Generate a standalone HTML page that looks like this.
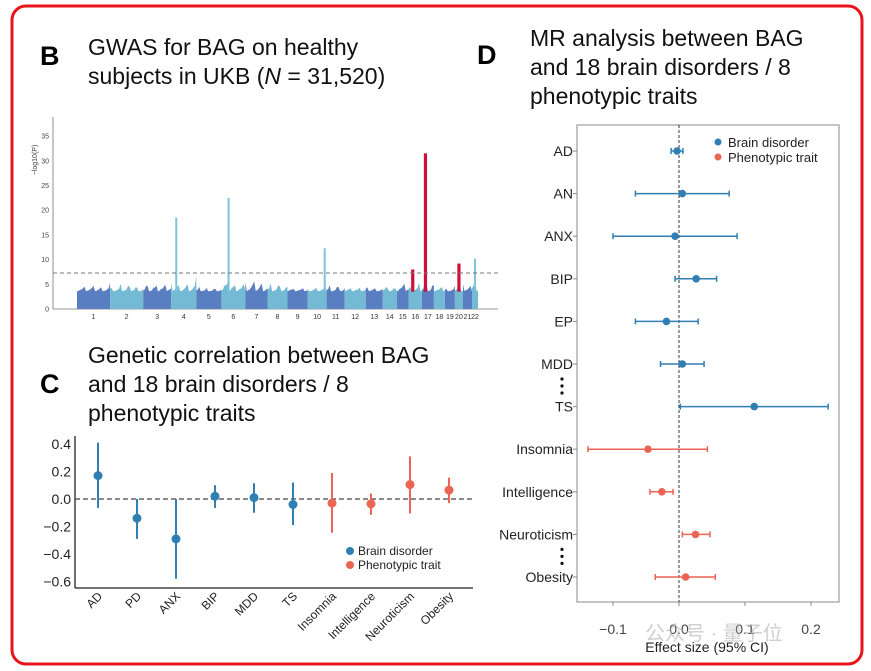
<!DOCTYPE html>
<html><head><meta charset="utf-8"><style>
body{margin:0;background:#fff;}
svg{display:block;font-family:"Liberation Sans","Noto Sans CJK SC",sans-serif;}
</style></head><body>
<svg id="fig" width="871" height="671" viewBox="0 0 871 671">
<rect x="12" y="6" width="850" height="658" rx="14" fill="none" stroke="#e8141c" stroke-width="3"/>
<text x="40" y="65" font-size="27" font-weight="bold">B</text>
<text x="88" y="55" font-size="23" fill="#111">GWAS for BAG on healthy</text>
<text x="88" y="84" font-size="23" fill="#111">subjects in UKB (<tspan font-style="italic">N</tspan> = 31,520)</text>
<text x="40" y="393" font-size="27" font-weight="bold">C</text>
<text x="88" y="363" font-size="23" fill="#111">Genetic correlation between BAG</text>
<text x="88" y="392" font-size="23" fill="#111">and 18 brain disorders / 8</text>
<text x="88" y="421" font-size="23" fill="#111">phenotypic traits</text>
<text x="477" y="64" font-size="27" font-weight="bold">D</text>
<text x="530" y="46" font-size="23" fill="#111">MR analysis between BAG</text>
<text x="530" y="75" font-size="23" fill="#111">and 18 brain disorders / 8</text>
<text x="530" y="104" font-size="23" fill="#111">phenotypic traits</text>
<g id="gB"></g><g id="gC"></g><g id="gD"></g>
<text x="645" y="640" font-size="20" fill="#bbb" opacity="0.7">公众号 · 量子位</text>
</svg>
<script>
// ---- Panel B data ----
const chrNames=["1","2","3","4","5","6","7","8","9","10","11","12","13","14","15","16","17","18","19","20","21","22"];
const chrWidths=[33,33,28,25,25,24,22,20,20,19,18,21,17,14,12,13,12,11,10,8,9,6];
const chrMax=[5.8,5.5,6.3,7,4.6,7,7.8,5.6,4.8,5.2,5.4,5.2,5.2,5,6.7,5.6,7,5.6,5,6.3,6.5,7];
const peakChr=["4","6","10","16","17","20","22"];
const peakFrac=[0.2,0.3,0.9,0.3,0.3,0.5,0.5];
const peakVal=[18.5,22.5,12.3,8,31.5,9.2,10.2];
const peakRed=[false,false,false,true,true,true,false];
const yTicksB=[0,5,10,15,20,25,30,35];
const threshold=7.3;
// ---- Panel C data ----
const catsC=["AD","PD","ANX","BIP","MDD","TS","Insomnia","Intelligence","Neuroticism","Obesity"];
const estC=[0.17,-0.14,-0.29,0.02,0.01,-0.04,-0.03,-0.035,0.105,0.065];
const loC=[-0.065,-0.29,-0.58,-0.065,-0.1,-0.19,-0.245,-0.115,-0.105,-0.03];
const hiC=[0.41,0,0,0.1,0.115,0.12,0.19,0.04,0.31,0.155];
const typeC=[0,0,0,0,0,0,1,1,1,1];
const yTicksC=[0.4,0.2,0,-0.2,-0.4,-0.6];
// ---- Panel D data ----
const catsD=["AD","AN","ANX","BIP","EP","MDD","TS","Insomnia","Intelligence","Neuroticism","Obesity"];
const estD=[-0.003,0.005,-0.006,0.026,-0.019,0.005,0.114,-0.047,-0.026,0.025,0.01];
const loD=[-0.012,-0.066,-0.1,-0.006,-0.066,-0.028,0.002,-0.138,-0.044,0.005,-0.036];
const hiD=[0.006,0.076,0.088,0.057,0.029,0.038,0.226,0.043,-0.009,0.047,0.055];
const typeD=[0,0,0,0,0,0,0,1,1,1,1];
const xTicksD=[-0.1,0,0.1,0.2];
const xTickLabD=["\u22120.1","0.0","0.1","0.2"];

const NS="http://www.w3.org/2000/svg";
function mk(p,tag,a,txt){const e=document.createElementNS(NS,tag);for(const k in a)e.setAttribute(k,a[k]);if(txt!==undefined)e.textContent=txt;p.appendChild(e);return e;}
const BLUE="#2f7fb3",RED="#ec6454";

// ===== Panel B =====
(function(){
const g=document.getElementById('gB');
const x0=53,y0=309,yTop=117,xStart=77,xEnd=478;
const yB=v=>y0-v*4.94;
const total=chrWidths.reduce((a,b)=>a+b,0);
const sx=(xEnd-xStart)/total;
let ax=mk(g,'line',{x1:x0,y1:yTop,x2:x0,y2:y0,stroke:'#777','stroke-width':0.8});

let bx=mk(g,'line',{x1:x0,y1:y0,x2:498,y2:y0,stroke:'#777','stroke-width':0.8});

yTicksB.forEach(t=>{
 let tl=mk(g,'text',{x:x0-4,y:yB(t)+2.5,'font-size':7,'text-anchor':'end',fill:'#444'},String(t));
 
});
let yl=mk(g,'text',{x:0,y:0,'font-size':7,fill:'#444',transform:'translate(37,160) rotate(-90)','text-anchor':'middle'},'\u2212log10(P)');

let cx=xStart;const starts={};
chrNames.forEach((c,i)=>{
 const w=chrWidths[i]*sx;starts[c]=[cx,w];
 const col=i%2===0?'#5a7ec2':'#74bad4';
 let pts=[[cx,y0]];
 const n=Math.max(4,Math.round(w/1.5));
 for(let k=0;k<=n;k++){const xx=cx+w*k/n;const f=((k*37+i*11)%17)/17;const hv=3.6+f*f*(chrMax[i]-3.6)*((k%5===2)?1:0.55);pts.push([xx,yB(hv)]);}
 pts.push([cx+w,y0]);
 let p=mk(g,'polygon',{points:pts.map(q=>q[0].toFixed(1)+','+q[1].toFixed(1)).join(' '),fill:col});
 
 let tl=mk(g,'text',{x:cx+w/2,y:y0+10,'font-size':7,'text-anchor':'middle',fill:'#333'},c);
 
 cx+=w;
});
peakChr.forEach((c,i)=>{
 const [s,w]=starts[c];const px=s+w*peakFrac[i];
 const col=peakRed[i]?'#d0103a':'#7cc3dc';
 let r=mk(g,'rect',{x:px-(peakRed[i]?1.6:1),y:yB(peakVal[i]),width:peakRed[i]?3.2:2,height:yB(3.5)-yB(peakVal[i]),fill:col});
 if(!peakRed[i])r.setAttribute('stroke-dasharray','2 1');
 
});
let th=mk(g,'line',{x1:x0,y1:yB(threshold),x2:498,y2:yB(threshold),stroke:'#777','stroke-width':1,'stroke-dasharray':'4 3'});

})();

// ===== Panel C =====
(function(){
const g=document.getElementById('gC');
const x0=75,y0=588,xr=473;
const yC=v=>499-v*137.5;
const xC=i=>98+i*39;
let a1=mk(g,'line',{x1:x0,y1:436,x2:x0,y2:y0,stroke:'#222','stroke-width':1.3});

let a2=mk(g,'line',{x1:x0,y1:y0,x2:xr,y2:y0,stroke:'#222','stroke-width':1.3});

yTicksC.forEach(t=>{
 let tl=mk(g,'text',{x:x0-4,y:yC(t)+5,'font-size':14,'text-anchor':'end',fill:'#222'},(t<0?'\u2212':'')+Math.abs(t).toFixed(1));
 
});
let z=mk(g,'line',{x1:x0,y1:yC(0),x2:xr,y2:yC(0),stroke:'#444','stroke-width':1.2,'stroke-dasharray':'5 3'});

catsC.forEach((c,i)=>{
 const col=typeC[i]?RED:BLUE;
 let l=mk(g,'line',{x1:xC(i),y1:yC(loC[i]),x2:xC(i),y2:yC(hiC[i]),stroke:col,'stroke-width':2});
 
 let d=mk(g,'circle',{cx:xC(i),cy:yC(estC[i]),r:4.5,fill:col});
 
 let t=mk(g,'text',{x:0,y:0,'font-size':12,'text-anchor':'end',fill:'#222',transform:'translate('+(xC(i)+5)+',597) rotate(-45)'},c);
 
});
[[BLUE,'Brain disorder',551],[RED,'Phenotypic trait',565]].forEach(([col,lab,yy])=>{
 let d=mk(g,'circle',{cx:350,cy:yy,r:4,fill:col});
 let t=mk(g,'text',{x:358,y:yy+4,'font-size':12,fill:'#222'},lab);
});
})();

// ===== Panel D =====
(function(){
const g=document.getElementById('gD');
const xD=v=>679+v*660;
const yD=i=>151+i*42.6;
let box=mk(g,'rect',{x:577,y:125,width:262,height:477,fill:'none',stroke:'#888','stroke-width':1});

let z=mk(g,'line',{x1:xD(0),y1:125,x2:xD(0),y2:602,stroke:'#333','stroke-width':1,'stroke-dasharray':'3 2'});

xTicksD.forEach((t,i)=>{
 let tk=mk(g,'line',{x1:xD(t),y1:602,x2:xD(t),y2:606,stroke:'#888'});
 let tl=mk(g,'text',{x:xD(t),y:634,'font-size':14,'text-anchor':'middle',fill:'#444'},xTickLabD[i]);
 
});
let xt=mk(g,'text',{x:707,y:652,'font-size':14,'text-anchor':'middle',fill:'#222'},'Effect size (95% CI)');

catsD.forEach((c,i)=>{
 const col=typeD[i]?RED:BLUE;const y=yD(i);
 let tk=mk(g,'line',{x1:573,y1:y,x2:577,y2:y,stroke:'#888'});
 let tl=mk(g,'text',{x:573,y:y+5,'font-size':14,'text-anchor':'end',fill:'#222'},c);
 
 let l=mk(g,'line',{x1:xD(loD[i]),y1:y,x2:xD(hiD[i]),y2:y,stroke:col,'stroke-width':1.5});
 
 [loD[i],hiD[i]].forEach(v=>{let cap=mk(g,'line',{x1:xD(v),y1:y-3,x2:xD(v),y2:y+3,stroke:col,'stroke-width':1.5});});
 let d=mk(g,'circle',{cx:xD(estD[i]),cy:y,r:3.8,fill:col});
 
});
[[yD(5)+15],[yD(9)+15]].forEach(([yy])=>{
 for(let k=0;k<3;k++){let c=mk(g,'circle',{cx:562,cy:yy+k*7,r:1.6,fill:'#111'});}
});
[[BLUE,'Brain disorder',142],[RED,'Phenotypic trait',157]].forEach(([col,lab,yy])=>{
 let d=mk(g,'circle',{cx:718,cy:yy,r:3.5,fill:col});
 let t=mk(g,'text',{x:728,y:yy+5,'font-size':13,fill:'#222'},lab);
});
})();
</script>
</body></html>
